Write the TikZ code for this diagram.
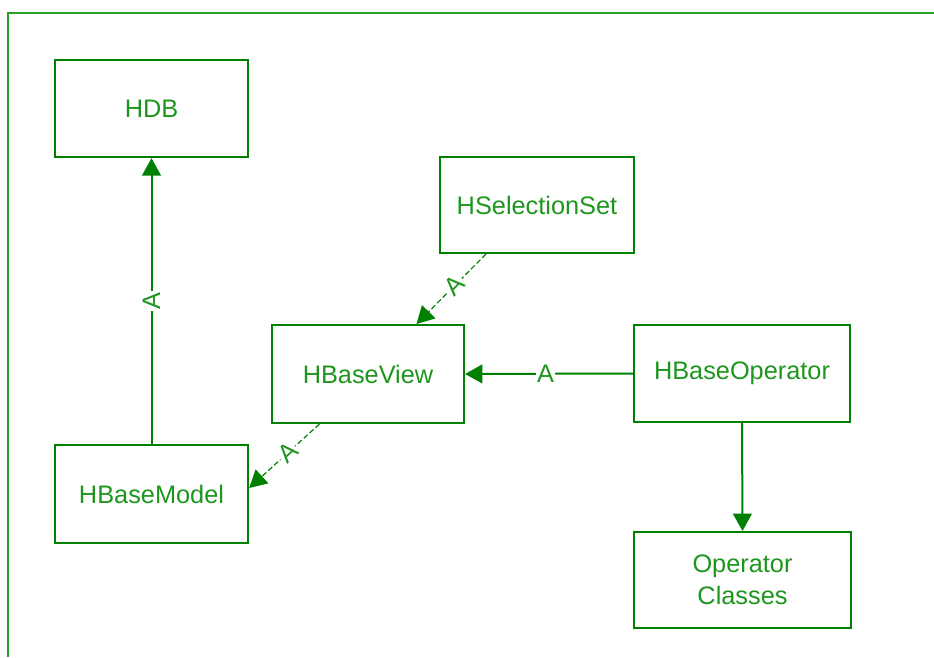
\documentclass[tikz,border=0pt]{standalone}
\usepackage{fontspec}
\setmainfont{Liberation Sans}
\usetikzlibrary{arrows.meta,calc}
\definecolor{ln}{RGB}{0,128,0}
\definecolor{tx}{RGB}{30,150,30}
\definecolor{fr}{RGB}{40,160,40}
\tikzset{
  box/.style={draw=ln,line width=1.5pt,rectangle,inner sep=0pt,text=tx,font=\fontsize{19}{24}\selectfont,align=center},
  conn/.style={draw=ln,line width=1.5pt,-{Triangle[length=13pt,width=14pt]}},
  dconn/.style={draw=ln,line width=0.9pt,dash pattern=on 4pt off 2pt,-{Triangle[length=13pt,width=14pt]}},
  lab/.style={fill=white,text=tx,inner sep=1pt,font=\fontsize{19}{24}\selectfont}
}
\begin{document}
\begin{tikzpicture}[x=0.75pt,y=-0.75pt]
\useasboundingbox (0,0) rectangle (934,657);
\draw[fr,line width=1.5pt] (8,657) -- (8,13) -- (934,13);
\node[box,minimum width=145pt,minimum height=73pt] (HDB) at (151.5,108.5) {HDB};
\node[box,minimum width=145.5pt,minimum height=72pt] (HSelectionSet) at (537,205) {HSelectionSet};
\node[box,minimum width=144pt,minimum height=73.5pt] (HBaseView) at (368,374) {HBaseView};
\node[box,minimum width=162pt,minimum height=73pt] (HBaseOperator) at (742,373.5) {HBaseOperator};
\node[box,minimum width=145pt,minimum height=73.5pt] (HBaseModel) at (151.5,494) {HBaseModel};
\node[box,minimum width=163pt,minimum height=72pt] (OpClasses) at (742.5,580) {Operator\\Classes};

\draw[conn] (HBaseModel.north) -- node[lab,sloped,pos=0.5] {A} (HDB.south);
\draw[dconn] ($(HSelectionSet.south west)!0.24!(HSelectionSet.south east)$) -- node[lab,sloped,pos=0.45] {A} ($(HBaseView.north west)!0.75!(HBaseView.north east)$);
\draw[conn] (HBaseOperator.west) -- node[lab,pos=0.52] {A} (HBaseView.east);
\draw[dconn] ($(HBaseView.south west)!0.25!(HBaseView.south east)$) -- node[lab,sloped,pos=0.45] {A} ($(HBaseModel.north east)!0.44!(HBaseModel.south east)$);
\draw[conn] (HBaseOperator.south) -- (OpClasses.north);
\end{tikzpicture}
\end{document}
